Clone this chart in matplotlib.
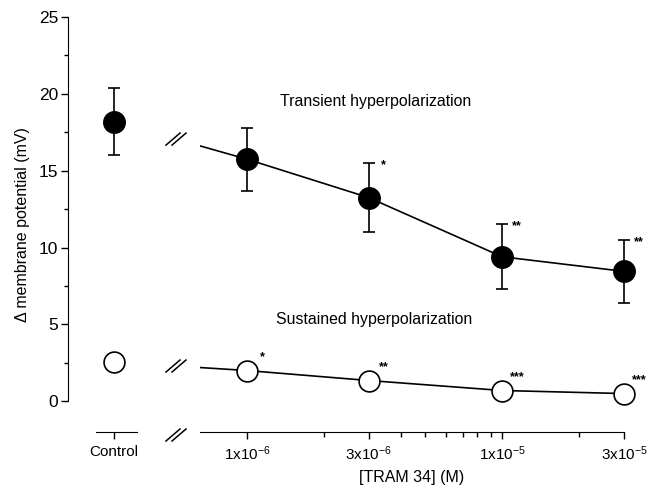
import matplotlib
matplotlib.use('Agg')
import matplotlib.pyplot as plt
import numpy as np
from matplotlib.lines import Line2D
from matplotlib.ticker import MultipleLocator, FixedLocator, NullFormatter

plt.rcParams['font.family'] = ['Liberation Sans', 'DejaVu Sans']
plt.rcParams['mathtext.fontset'] = 'custom'
plt.rcParams['mathtext.rm'] = 'Liberation Sans'
plt.rcParams['mathtext.default'] = 'regular'

# data
conc = [1e-6, 3e-6, 1e-5, 3e-5]
conc_labels = ['1x10$^{-6}$', '3x10$^{-6}$', '1x10$^{-5}$', '3x10$^{-5}$']
minor_conc = [2e-6, 4e-6, 5e-6, 6e-6, 7e-6, 8e-6, 9e-6, 2e-5]

transient_ctrl = 18.2
transient_ctrl_err = 2.2
transient = [15.75, 13.25, 9.4, 8.45]
transient_err = [2.05, 2.25, 2.1, 2.05]
transient_stars = ['', '*', '**', '**']

sustained_ctrl = 2.55
sustained = [2.0, 1.35, 0.7, 0.5]
sustained_stars = ['*', '**', '***', '***']

W, H = 649, 488
fig = plt.figure(figsize=(W / 100, H / 100), dpi=100)
ax1 = fig.add_axes([68 / W, 56 / H, 69 / W, 415 / H])
ax2 = fig.add_axes([200 / W, 56 / H, 424 / W, 415 / H])

# --- control panel ---
ax1.set_xlim(-2, 1)
ax1.set_ylim(-2, 25)
for s in ['top', 'right']:
    ax1.spines[s].set_visible(False)
ax1.spines['left'].set_bounds(0, 25)
ax1.spines['bottom'].set_bounds(-0.8, 1)
ax1.set_xticks([0])
ax1.set_xticklabels(['Control'], fontsize=11)
ax1.yaxis.set_major_locator(MultipleLocator(5))
ax1.yaxis.set_minor_locator(MultipleLocator(2.5))
ax1.tick_params(axis='y', which='major', length=5, width=1, labelsize=12.5, pad=2)
ax1.tick_params(axis='y', which='minor', length=3, width=1)
ax1.tick_params(axis='x', length=5, width=1, pad=4)
ax1.set_ylabel('Δ membrane potential (mV)', fontsize=11.5, labelpad=6)

ax1.errorbar([0], [transient_ctrl], yerr=[transient_ctrl_err], fmt='none',
             ecolor='k', elinewidth=1.2, capsize=4, capthick=1.2, zorder=2)
ax1.plot([0], [transient_ctrl], 'o', color='k', ms=15.5, zorder=3)
ax1.plot([0], [sustained_ctrl], 'o', mfc='white', mec='k', mew=1.2, ms=15, zorder=3)

# --- concentration panel ---
ax2.set_xscale('log')
ax2.set_xlim(6.55e-7, 3e-5)
ax2.set_ylim(-2, 25)
for s in ['top', 'right', 'left']:
    ax2.spines[s].set_visible(False)
ax2.set_yticks([])
ax2.xaxis.set_major_locator(FixedLocator(conc))
ax2.set_xticklabels(conc_labels, fontsize=11)
ax2.xaxis.set_minor_locator(FixedLocator(minor_conc))
ax2.xaxis.set_minor_formatter(NullFormatter())
ax2.tick_params(axis='x', which='major', length=5, width=1, pad=4)
ax2.tick_params(axis='x', which='minor', length=3.5, width=1)
ax2.set_xlabel('[TRAM 34] (M)', fontsize=11.5, labelpad=5)

# connect control to the series (hidden behind the axis break)
def ctrl_in_ax2(v):
    d = ax1.transData.transform((0, v))
    return ax2.transData.inverted().transform(d)[0]

ax2.plot([ctrl_in_ax2(transient_ctrl)] + conc, [transient_ctrl] + transient,
         'k-', lw=1.2, zorder=1)
ax2.plot([ctrl_in_ax2(sustained_ctrl)] + conc, [sustained_ctrl] + sustained,
         'k-', lw=1.2, zorder=1)

ax2.errorbar(conc, transient, yerr=transient_err, fmt='none', ecolor='k',
             elinewidth=1.2, capsize=4, capthick=1.2, zorder=2, clip_on=False)
ax2.plot(conc, transient, 'o', color='k', ms=15.5, zorder=3, clip_on=False)
ax2.plot(conc, sustained, 'o', mfc='white', mec='k', mew=1.2, ms=15,
         zorder=3, clip_on=False)

for c, v, e, s in zip(conc, transient, transient_err, transient_stars):
    if s:
        ax2.annotate(s, (c, v + e), xytext=(15, -5), textcoords='offset pixels',
                     ha='center', va='baseline', fontsize=9, fontweight='bold',
                     annotation_clip=False)
for c, v, s in zip(conc, sustained, sustained_stars):
    ax2.annotate(s, (c, v), xytext=(15, 10), textcoords='offset pixels',
                 ha='center', va='baseline', fontsize=9, fontweight='bold',
                 annotation_clip=False)

ax2.text(0.415, 0.797, 'Transient hyperpolarization', transform=ax2.transAxes,
         ha='center', va='center', fontsize=11.4)
ax2.text(0.41, 0.27, 'Sustained hyperpolarization', transform=ax2.transAxes,
         ha='center', va='center', fontsize=11.4)

# axis break marks
def break_mark(xc, yc):
    for off in (-3, 3):
        xs = np.array([xc + off - 7, xc + off + 7]) / W
        ys = np.array([yc - 6, yc + 6]) / H
        fig.add_artist(Line2D(xs, ys, transform=fig.transFigure, color='k', lw=1.1))

xb = 176
for cval, first in [(transient_ctrl, transient[0]), (sustained_ctrl, sustained[0])]:
    p0 = ax1.transData.transform((0, cval))
    p1 = ax2.transData.transform((conc[0], first))
    yb = p0[1] + (p1[1] - p0[1]) * (xb - p0[0]) / (p1[0] - p0[0])
    break_mark(xb, yb)
break_mark(xb, 56 - 3)

fig.savefig('out.png', dpi=100)
